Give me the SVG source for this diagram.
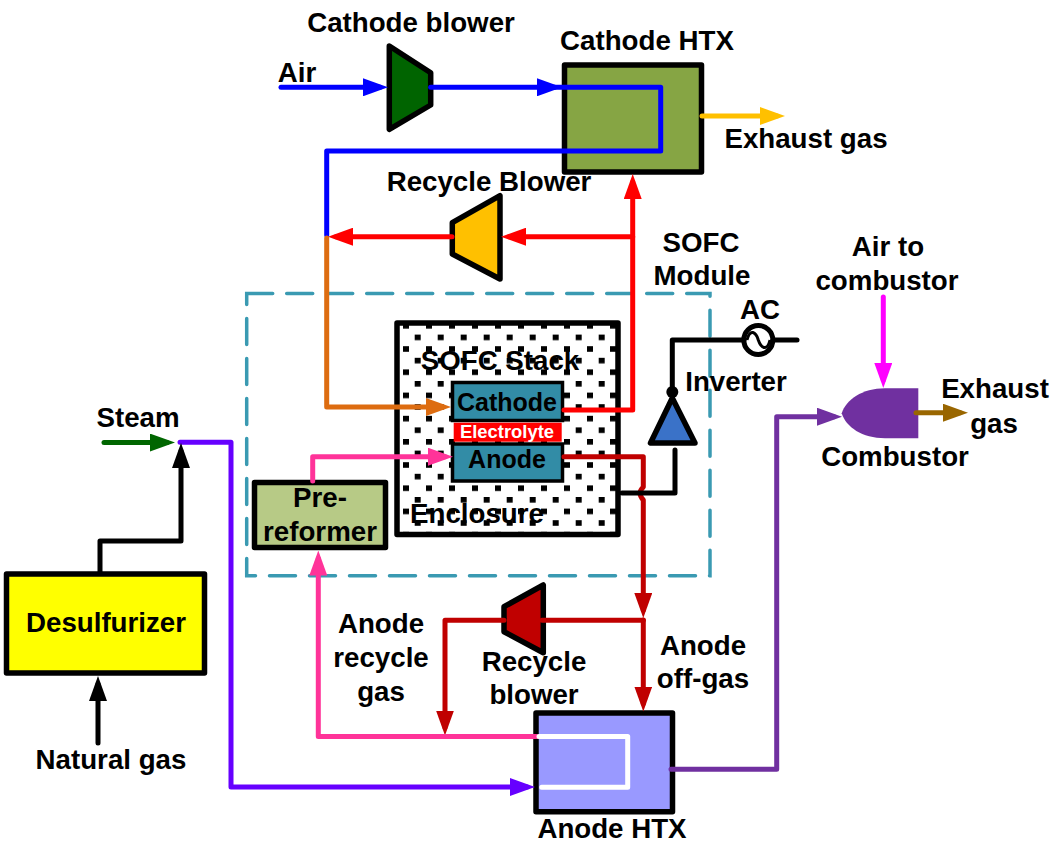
<svg xmlns="http://www.w3.org/2000/svg" width="1052" height="844" viewBox="0 0 1052 844">
<style>
text{font-family:"Liberation Sans",Arial,sans-serif;font-weight:bold;font-size:27.7px;fill:#000;text-anchor:middle}
.box{stroke:#000;stroke-width:5.5;stroke-linejoin:round}
.c{fill:none;stroke-width:5;stroke-linejoin:round;stroke-linecap:round}
.inner{font-size:25px}
</style>
<defs>
<pattern id="dots" patternUnits="userSpaceOnUse" x="403" y="323" width="23" height="23.2"><rect width="23" height="23.2" fill="#fff"/><rect x="0" y="0" width="6" height="5.6" fill="#000"/><rect x="11.7" y="11.6" width="6" height="5.6" fill="#000"/></pattern>
<marker id="aBlue" viewBox="0 0 25 18" refX="17" refY="9" markerWidth="25" markerHeight="18" orient="auto" markerUnits="userSpaceOnUse"><path d="M0 0L25 9L0 18Z" fill="#0000ff"/></marker>
<marker id="aRed" viewBox="0 0 25 18" refX="17" refY="9" markerWidth="25" markerHeight="18" orient="auto" markerUnits="userSpaceOnUse"><path d="M0 0L25 9L0 18Z" fill="#ff0000"/></marker>
<marker id="aGold" viewBox="0 0 25 18" refX="17" refY="9" markerWidth="25" markerHeight="18" orient="auto" markerUnits="userSpaceOnUse"><path d="M0 0L25 9L0 18Z" fill="#ffc000"/></marker>
<marker id="aOrange" viewBox="0 0 25 18" refX="17" refY="9" markerWidth="25" markerHeight="18" orient="auto" markerUnits="userSpaceOnUse"><path d="M0 0L25 9L0 18Z" fill="#dd6c10"/></marker>
<marker id="aPink" viewBox="0 0 25 18" refX="17" refY="9" markerWidth="25" markerHeight="18" orient="auto" markerUnits="userSpaceOnUse"><path d="M0 0L25 9L0 18Z" fill="#ff3399"/></marker>
<marker id="aDark" viewBox="0 0 25 18" refX="17" refY="9" markerWidth="25" markerHeight="18" orient="auto" markerUnits="userSpaceOnUse"><path d="M0 0L25 9L0 18Z" fill="#c00000"/></marker>
<marker id="aViolet" viewBox="0 0 25 18" refX="17" refY="9" markerWidth="25" markerHeight="18" orient="auto" markerUnits="userSpaceOnUse"><path d="M0 0L25 9L0 18Z" fill="#6600ff"/></marker>
<marker id="aGreen" viewBox="0 0 25 18" refX="17" refY="9" markerWidth="25" markerHeight="18" orient="auto" markerUnits="userSpaceOnUse"><path d="M0 0L25 9L0 18Z" fill="#006600"/></marker>
<marker id="aBlack" viewBox="0 0 25 18" refX="17" refY="9" markerWidth="25" markerHeight="18" orient="auto" markerUnits="userSpaceOnUse"><path d="M0 0L25 9L0 18Z" fill="#000"/></marker>
<marker id="aPurple" viewBox="0 0 25 18" refX="17" refY="9" markerWidth="25" markerHeight="18" orient="auto" markerUnits="userSpaceOnUse"><path d="M0 0L25 9L0 18Z" fill="#7030a0"/></marker>
<marker id="aBrown" viewBox="0 0 25 18" refX="17" refY="9" markerWidth="25" markerHeight="18" orient="auto" markerUnits="userSpaceOnUse"><path d="M0 0L25 9L0 18Z" fill="#996600"/></marker>
<marker id="aMagenta" viewBox="0 0 25 18" refX="17" refY="9" markerWidth="25" markerHeight="18" orient="auto" markerUnits="userSpaceOnUse"><path d="M0 0L25 9L0 18Z" fill="#ff00ff"/></marker>
</defs>
<rect width="1052" height="844" fill="#fff"/>
<g id="sofc-module"><rect x="246.7" y="293.5" width="463.3" height="282.2" fill="none" stroke="#3a9ab2" stroke-width="3.5" stroke-dasharray="26 14" stroke-linecap="round"/><text x="701" y="252">SOFC</text><text x="702" y="285">Module</text></g>
<g id="cathode-blower"><polygon class="box" points="389.3,46 430.7,72.7 430.7,105 389.3,129.3" fill="#006400"/><text x="411" y="32">Cathode blower</text></g>
<g id="cathode-htx"><rect class="box" x="564.5" y="65" width="137" height="107" fill="#86a544"/><text x="647" y="50">Cathode HTX</text></g>
<g id="recycle-blower-top"><polygon class="box" points="500,195.7 500,279 452.3,254 452.3,222.7" fill="#ffc000"/><text x="489" y="191">Recycle Blower</text></g>
<g id="stack"><rect class="box" x="397" y="323" width="221" height="211.5" fill="url(#dots)"/><text x="500" y="370">SOFC Stack</text><text x="477" y="523">Enclosure</text></g>
<g id="cathode"><rect x="452.5" y="382.5" width="110" height="38" fill="#328ca6" stroke="#000" stroke-width="3.5"/><text class="inner" x="507" y="411">Cathode</text></g>
<g id="electrolyte"><rect x="453.7" y="422.7" width="108" height="19" fill="#ff0000"/><text x="507" y="438" style="font-size:18.4px;fill:#fff">Electrolyte</text></g>
<g id="anode"><rect x="452.5" y="444" width="110" height="37" fill="#328ca6" stroke="#000" stroke-width="3.5"/><text class="inner" x="507" y="468">Anode</text></g>
<g id="pre-reformer"><rect class="box" x="254.5" y="482.5" width="131" height="65" fill="#b7ca86"/><text x="320" y="507">Pre-</text><text x="320" y="541">reformer</text></g>
<g id="desulfurizer"><rect class="box" x="6.5" y="574" width="198" height="99" fill="#ffff00"/><text x="106" y="632">Desulfurizer</text></g>
<g id="recycle-blower-bottom"><polygon class="box" points="543.3,585 543.3,652.7 504,631.7 504,606.7" fill="#c00000"/><text x="534" y="671">Recycle</text><text x="534" y="704">blower</text></g>
<g id="anode-htx"><rect class="box" x="536" y="713" width="136.5" height="98.7" fill="#9999ff"/><text x="612" y="838">Anode HTX</text></g>
<g id="inverter"><polygon class="box" points="672.3,398 650.5,443 695,443" fill="#3a72c8"/><circle cx="672.3" cy="392" r="6" fill="#000"/><text x="736" y="391">Inverter</text></g>
<g id="ac"><circle cx="758.3" cy="340" r="14.5" fill="#fff" stroke="#000" stroke-width="5"/><path d="M747 340C750 328 756 332 758.3 340C761 348 767 352 770 340" fill="none" stroke="#000" stroke-width="3"/><text x="760" y="319">AC</text></g>
<g id="combustor"><path d="M918.3 388.3H885C862 388.3 846 400 841.7 413.3C846 427 862 438.3 885 438.3H918.3Z" fill="#7030a0"/><text x="895" y="466">Combustor</text></g>
<g id="connectors">
<path class="c" d="M281 87.3H380" stroke="#0000ff" marker-end="url(#aBlue)"/>
<path class="c" d="M430.7 87.3H554" stroke="#0000ff" marker-end="url(#aBlue)"/>
<path class="c" d="M555 87.3H660.7V151H326.7V235" stroke="#0000ff"/>
<path class="c" d="M702 116H777" stroke="#ffc000" marker-end="url(#aGold)"/>
<path class="c" d="M564 410H632.7V182" stroke="#ff0000" marker-end="url(#aRed)"/>
<path class="c" d="M632.7 236.7H509" stroke="#ff0000" marker-end="url(#aRed)"/>
<path class="c" d="M452 236.7H336" stroke="#ff0000" marker-end="url(#aRed)"/>
<path class="c" d="M326.7 238V407H443" stroke="#dd6c10" marker-end="url(#aOrange)"/>
<path class="c" d="M312.7 481V456.7H445" stroke="#ff3399" marker-end="url(#aPink)"/>
<path class="c" d="M564 456.7H643.3V487Q637 493 643.3 500V610" stroke="#c00000" marker-end="url(#aDark)"/>
<path class="c" d="M643.3 620V703.5" stroke="#c00000" marker-end="url(#aDark)"/>
<path class="c" d="M643.3 620.3H542" stroke="#c00000"/>
<path class="c" d="M504 620.3H445V727.5" stroke="#c00000" marker-end="url(#aDark)"/>
<path class="c" d="M537 736.5H318.3V558.5" stroke="#ff3399" marker-end="url(#aPink)"/>
<path class="c" d="M180 442.3H231V787H527" stroke="#6600ff" marker-end="url(#aViolet)"/>
<path class="c" d="M104 442.6H167" stroke="#006600" marker-end="url(#aGreen)"/>
<path class="c" d="M100 573V541H181V451" stroke="#000" marker-end="url(#aBlack)"/>
<path class="c" d="M98 743V684" stroke="#000" marker-end="url(#aBlack)"/>
<path class="c" d="M539 736.5H627.7V787.3H541.7" stroke="#fff"/>
<path class="c" d="M671 769.3H776.7V416.7H834" stroke="#7030a0" marker-end="url(#aPurple)"/>
<path class="c" d="M916 412.7H960" stroke="#996600" marker-end="url(#aBrown)"/>
<path class="c" d="M883.3 297V380" stroke="#ff00ff" marker-end="url(#aMagenta)"/>
<path class="c" d="M622 493H675V450" stroke="#000"/>
<path class="c" d="M672.3 392V340H744" stroke="#000"/>
<path class="c" d="M773 340H797" stroke="#000"/>
</g>
<g id="labels">
<text x="297" y="82">Air</text>
<text x="806" y="148">Exhaust gas</text>
<text x="888" y="256">Air to</text>
<text x="887" y="290">combustor</text>
<text x="995" y="398">Exhaust</text>
<text x="994" y="433">gas</text>
<text x="138" y="427">Steam</text>
<text x="111" y="769">Natural gas</text>
<text x="381" y="633">Anode</text>
<text x="381" y="667">recycle</text>
<text x="381" y="701">gas</text>
<text x="703" y="655">Anode</text>
<text x="703" y="688">off-gas</text>
</g>
</svg>
